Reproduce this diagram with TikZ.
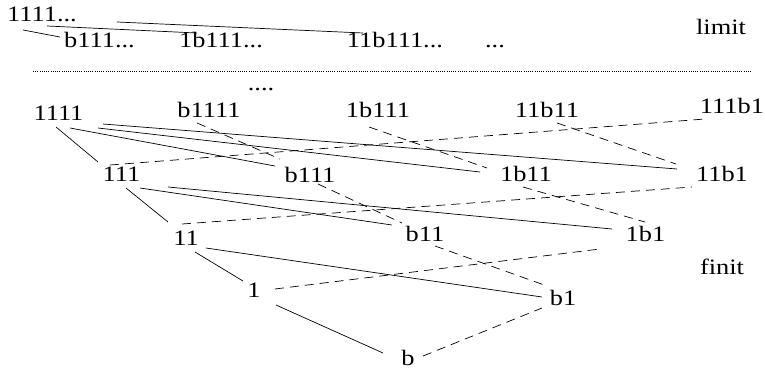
\documentclass[tikz,border=0pt]{standalone}
\usepackage{fontspec}
\setmainfont{Liberation Serif}[FakeStretch=1.2]
\begin{document}
\begin{tikzpicture}[x=1pt,y=-1pt,
  lbl/.style={anchor=base,inner sep=0pt,font=\fontsize{22}{26}\selectfont},
  solidedge/.style={line width=0.7pt},
  dashedge/.style={line width=0.7pt,dash pattern=on 9pt off 6pt},
  separator/.style={line width=0.6pt,dash pattern=on 0.8pt off 1.4pt}]
\useasboundingbox (0,0) rectangle (765,369);

% limit level
\node[lbl] (tA) at (42,22) {1111...};
\node[lbl] (tB) at (99.5,48) {b111...};
\node[lbl] (tC) at (221,48) {1b111...};
\node[lbl] (tD) at (395,48) {11b111...};
\node[lbl] (tE) at (495,48) {...};
\node[lbl] (limit) at (721,35) {limit};

\draw[solidedge] ([shift={(-19,8)}]tA.base) -- ([shift={(-39.5,-11)}]tB.base);
\draw[solidedge] ([shift={(5,4)}]tA.base) -- ([shift={(-24,-15)}]tC.base);
\draw[solidedge] ([shift={(75,0)}]tA.base) -- ([shift={(-32,-15)}]tD.base);

% separator between limit and finite levels
\draw[separator] (33,71) -- (752,71);

% finite levels
\node[lbl] (more) at (261,90) {....};
\node[lbl] (n1111) at (58.5,120) {1111};
\node[lbl] (nb1111) at (209,117) {b1111};
\node[lbl] (n1b111) at (378,117) {1b111};
\node[lbl] (n11b11) at (547,117) {11b11};
\node[lbl] (n111b1) at (732,113) {111b1};
\node[lbl] (n111) at (121.5,181) {111};
\node[lbl] (nb111) at (310,182) {b111};
\node[lbl] (n1b11) at (526,181) {1b11};
\node[lbl] (n11b1) at (722,181) {11b1};
\node[lbl] (n11) at (186,245) {11};
\node[lbl] (nb11) at (425,241) {b11};
\node[lbl] (n1b1) at (645.5,241) {1b1};
\node[lbl] (finit) at (722,274) {finit};
\node[lbl] (n1) at (254,297) {1};
\node[lbl] (nb1) at (563,305) {b1};
\node[lbl] (nb) at (408,365) {b};

% solid edges
\draw[solidedge] ([shift={(-2.5,7)}]n1111.base) -- ([shift={(-23.5,-19)}]n111.base);
\draw[solidedge] ([shift={(11.5,8)}]n1111.base) -- ([shift={(-35,-16)}]nb111.base);
\draw[solidedge] ([shift={(39.5,8)}]n1111.base) -- ([shift={(-46,-9)}]n1b11.base);
\draw[solidedge] ([shift={(44.5,4)}]n1111.base) -- ([shift={(-45,-12)}]n11b1.base);
\draw[solidedge] ([shift={(4.5,7)}]n111.base) -- ([shift={(-18,-23)}]n11.base);
\draw[solidedge] ([shift={(18.5,7)}]n111.base) -- ([shift={(-33,-16)}]nb11.base);
\draw[solidedge] ([shift={(46.5,6)}]n111.base) -- ([shift={(-33.5,-12)}]n1b1.base);
\draw[solidedge] ([shift={(9,7)}]n11.base) -- ([shift={(-11,-16)}]n1.base);
\draw[solidedge] ([shift={(20,3)}]n11.base) -- ([shift={(-21,-8)}]nb1.base);
\draw[solidedge] ([shift={(22,8)}]n1.base) -- ([shift={(-25,-12)}]nb.base);

% dashed edges
\draw[dashedge] ([shift={(-11.5,-16)}]n111.base) -- ([shift={(-27,6)}]n111b1.base);
\draw[dashedge] ([shift={(-12,6)}]nb1111.base) -- ([shift={(-30,-23)}]nb111.base);
\draw[dashedge] ([shift={(-9,10)}]n1b111.base) -- ([shift={(-39,-13)}]n1b11.base);
\draw[dashedge] ([shift={(10,6)}]n11b11.base) -- ([shift={(-46,-17)}]n11b1.base);
\draw[dashedge] ([shift={(-4,-21)}]n11.base) -- ([shift={(-30,6)}]n11b1.base);
\draw[dashedge] ([shift={(8,2)}]nb111.base) -- ([shift={(-23,-18)}]nb11.base);
\draw[dashedge] ([shift={(-3,6)}]n1b11.base) -- ([shift={(-0.5,-19)}]n1b1.base);
\draw[dashedge] ([shift={(21,-8)}]n1.base) -- ([shift={(-45.5,8)}]n1b1.base);
\draw[dashedge] ([shift={(10,5)}]nb11.base) -- ([shift={(-16,-19)}]nb1.base);
\draw[dashedge] ([shift={(15,-9)}]nb.base) -- ([shift={(-21,3)}]nb1.base);
\end{tikzpicture}
\end{document}
